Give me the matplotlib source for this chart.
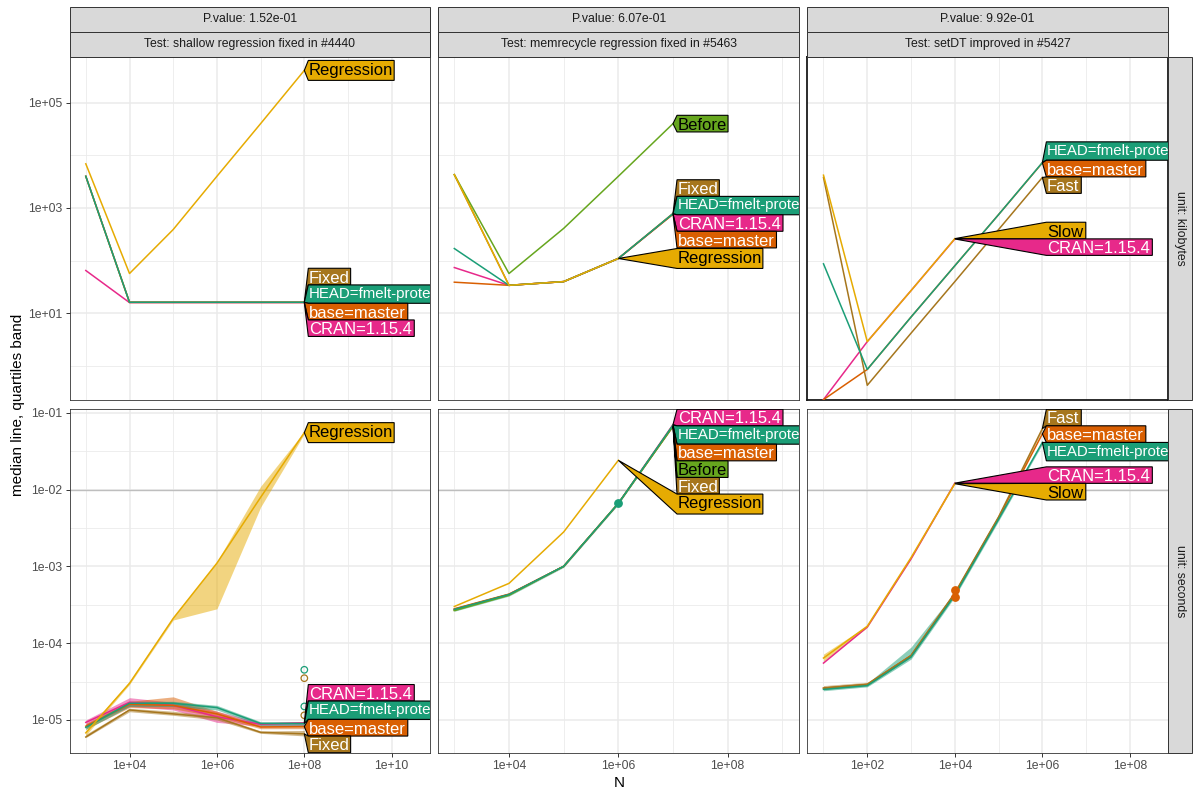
import numpy as np
import matplotlib
matplotlib.use("Agg")
import matplotlib.pyplot as plt
from matplotlib.patches import Polygon, Rectangle
from matplotlib.textpath import TextPath
from matplotlib.font_manager import FontProperties
from matplotlib.transforms import IdentityTransform
from matplotlib.ticker import FixedLocator, NullFormatter

plt.rcParams['font.family'] = ['Liberation Sans', 'DejaVu Sans']
DPI = 100

HEAD = "HEAD=fmelt-protect"
BASE = "base=master"
CRAN = "CRAN=1.15.4"

test_names = ["shallow regression fixed in #4440",
              "memrecycle regression fixed in #5463",
              "setDT improved in #5427"]
p_values = [1.52e-01, 6.07e-01, 9.92e-01]
units = ["kilobytes", "seconds"]

# test 1
N_shallow = [1e3, 1e4, 1e5, 1e6, 1e7, 1e8]
shallow_kb = {
    CRAN: [65, 16.0, 16.0, 16.0, 16.0, 16.0],
    BASE: [4000, 16.1, 16.1, 16.1, 16.1, 16.1],
    "Fixed": [4000, 16.3, 16.3, 16.3, 16.3, 16.3],
    HEAD: [4000, 16.2, 16.2, 16.2, 16.2, 16.2],
    "Regression": [6900, 57, 390, 4000, 40000, 410000],
}
shallow_sec = {
    CRAN: [9.3e-6, 1.7e-5, 1.55e-5, 1.1e-5, 8.8e-6, 9.2e-6],
    BASE: [8.3e-6, 1.6e-5, 1.55e-5, 1.2e-5, 8.1e-6, 8.2e-6],
    "Fixed": [6.0e-6, 1.35e-5, 1.2e-5, 1.07e-5, 6.9e-6, 6.6e-6],
    HEAD: [8.0e-6, 1.65e-5, 1.65e-5, 1.45e-5, 9.0e-6, 9.0e-6],
    "Regression": [6.8e-6, 3.0e-5, 2.1e-4, 1.1e-3, 7.9e-3, 5.5e-2],
}
shallow_q25 = {
    CRAN: [8.5e-6, 1.5e-5, 1.35e-5, 9.3e-6, 8.3e-6, 8.4e-6],
    BASE: [7.6e-6, 1.45e-5, 1.4e-5, 1.1e-5, 7.7e-6, 7.7e-6],
    "Fixed": [5.9e-6, 1.28e-5, 1.15e-5, 1.0e-5, 6.7e-6, 6.2e-6],
    HEAD: [7.5e-6, 1.5e-5, 1.5e-5, 1.35e-5, 8.5e-6, 8.5e-6],
    "Regression": [6.3e-6, 2.9e-5, 2.0e-4, 2.8e-4, 5.9e-3, 5.3e-2],
}
shallow_q75 = {
    CRAN: [1.0e-5, 1.95e-5, 1.7e-5, 1.3e-5, 9.3e-6, 9.4e-6],
    BASE: [9.0e-6, 1.75e-5, 2.0e-5, 1.3e-5, 8.5e-6, 8.5e-6],
    "Fixed": [6.5e-6, 1.42e-5, 1.3e-5, 1.12e-5, 7.2e-6, 7.3e-6],
    HEAD: [8.6e-6, 1.75e-5, 1.75e-5, 1.55e-5, 9.5e-6, 9.5e-6],
    "Regression": [7.1e-6, 3.2e-5, 2.2e-4, 1.15e-3, 1.1e-2, 5.7e-2],
}
shallow_pts = {HEAD: (1e8, [4.5e-5, 1.5e-5]), "Fixed": (1e8, [3.5e-5, 1.15e-5])}

# test 2
N_memrecycle = [1e3, 1e4, 1e5, 1e6, 1e7]
memrecycle_kb = {
    CRAN: [74, 34, 40, 110, 770],
    BASE: [39, 34, 40, 110, 760],
    "Fixed": [4300, 34, 40, 110, 790],
    "Before": [4300, 57, 410, 4000, 40000],
    HEAD: [170, 34, 40, 110, 780],
    "Regression": [4300, 34, 40, 110],
}
memrecycle_sec = {
    CRAN: [2.75e-4, 4.3e-4, 1.0e-3, 6.6e-3, 7.0e-2],
    BASE: [2.8e-4, 4.35e-4, 1.0e-3, 6.6e-3, 6.8e-2],
    "Fixed": [2.7e-4, 4.25e-4, 1.0e-3, 6.6e-3, 6.6e-2],
    "Before": [2.65e-4, 4.2e-4, 1.0e-3, 6.6e-3, 6.7e-2],
    HEAD: [2.75e-4, 4.3e-4, 1.0e-3, 6.6e-3, 6.9e-2],
    "Regression": [3.0e-4, 6.0e-4, 2.8e-3, 2.4e-2],
}
memrecycle_q25 = {HEAD: [2.6e-4, 4.1e-4, 0.97e-3, 6.4e-3, 6.7e-2]}
memrecycle_q75 = {HEAD: [2.9e-4, 4.5e-4, 1.03e-3, 6.8e-3, 7.1e-2]}
memrecycle_pts = {HEAD: (1e6, [6.6e-3])}

# test 3
N_setDT = [1e1, 1e2, 1e3, 1e4, 1e5, 1e6]
setDT_kb = {
    CRAN: [0.23, 2.9, 27, 258],
    BASE: [0.23, 0.86, 8.5, 80, 750, 7200],
    "Fast": [3800, 0.43, 4.2, 40, 390, 3800],
    HEAD: [87, 0.86, 8.5, 80, 750, 7300],
    "Slow": [4200, 2.9, 27, 262],
}
setDT_sec = {
    CRAN: [5.5e-5, 1.62e-4, 1.25e-3, 1.21e-2],
    BASE: [2.6e-5, 2.9e-5, 6.9e-5, 4.4e-4, 4.3e-3, 5.3e-2],
    "Fast": [2.6e-5, 2.9e-5, 6.9e-5, 4.5e-4, 4.4e-3, 6.2e-2],
    HEAD: [2.5e-5, 2.8e-5, 6.6e-5, 4.2e-4, 4.1e-3, 4.1e-2],
    "Slow": [6.4e-5, 1.66e-4, 1.3e-3, 1.19e-2],
}
setDT_q25 = {
    HEAD: [2.4e-5, 2.7e-5, 6.2e-5, 4.0e-4, 3.9e-3, 3.9e-2],
    "Slow": [5.8e-5, 1.6e-4, 1.25e-3, 1.18e-2],
    "Fast": [2.5e-5, 2.8e-5, 6.6e-5, 4.3e-4, 4.2e-3, 6.0e-2],
}
setDT_q75 = {
    HEAD: [2.7e-5, 3.0e-5, 8.9e-5, 4.6e-4, 4.4e-3, 4.3e-2],
    "Slow": [7.2e-5, 1.7e-4, 1.35e-3, 1.22e-2],
    "Fast": [2.8e-5, 3.1e-5, 7.2e-5, 4.7e-4, 4.6e-3, 6.4e-2],
}
setDT_pts = {BASE: (1e4, [4.9e-4, 4.0e-4])}

colors = {HEAD: "#1B9E77", BASE: "#D95F02", CRAN: "#E7298A", "Before": "#66A61E",
          "Regression": "#E6AB02", "Slow": "#E6AB02", "Fixed": "#A6761D", "Fast": "#A6761D"}
text_colors = {HEAD: "white", BASE: "white", CRAN: "white", "Fixed": "white", "Fast": "white",
               "Before": "black", "Regression": "black", "Slow": "black"}
draw_order = [CRAN, BASE, "Fixed", "Fast", "Before", HEAD, "Regression", "Slow"]

# layout (pixels)
W, H = 1200, 800
col_left = [69.5, 438.3, 807.3]
col_right = [430.0, 799.0, 1168.0]
row_top = [56.7, 409.3]
row_bottom = [400.0, 752.7]
xlims = [(2.627, 10.876), (2.707, 9.304), (0.63, 8.87)]
ylims = [(-0.646, 5.873), (-5.426, -0.956)]
xmajor = [[4, 6, 8, 10], [4, 6, 8], [2, 4, 6, 8]]
xminor = [[3, 5, 7, 9], [3, 5, 7, 9], [1, 3, 5, 7]]
ymajor = [[1, 3, 5], [-5, -4, -3, -2, -1]]
yminor = [[0, 2, 4], [-5.5, -4.5, -3.5, -2.5, -1.5]]

panel_data = [
    (N_shallow, shallow_kb, shallow_sec, shallow_q25, shallow_q75, shallow_pts),
    (N_memrecycle, memrecycle_kb, memrecycle_sec, memrecycle_q25, memrecycle_q75, memrecycle_pts),
    (N_setDT, setDT_kb, setDT_sec, setDT_q25, setDT_q75, setDT_pts),
]

fig = plt.figure(figsize=(W / DPI, H / DPI), dpi=DPI)


def fmt(e):
    return "1e" + format(int(e), "+03d")


def draw_labels(ax, N, series):
    tips = {}
    for name, vals in series.items():
        tips[name] = ax.transData.transform((N[len(vals) - 1], vals[-1]))
    bx0 = max(p[0] for p in tips.values()) + 4
    items = []
    for name, (tx, ty) in tips.items():
        fs = 10.8 if name == HEAD else 12
        tp = TextPath((0, 0), name, size=fs * DPI / 72, prop=FontProperties(family='Liberation Sans'))
        e = tp.get_extents()
        h = max(e.y1 - e.y0 + 4.4, 16.5)
        items.append(dict(name=name, tx=tx, ty=ty, c=ty, h=h, fs=fs, e=e))
    items.sort(key=lambda d: -d['c'])
    lo, hi = ax.bbox.y0, ax.bbox.y1

    def place(cl):
        hh = sum(i['h'] for i in cl)
        c = np.mean([i['c'] for i in cl])
        top = min(c + hh / 2, hi)
        top = max(top, lo + hh)
        return top, top - hh

    clusters = [[it] for it in items]
    merged = True
    while merged:
        merged = False
        for k in range(len(clusters) - 1):
            t1, b1 = place(clusters[k])
            t2, b2 = place(clusters[k + 1])
            if t2 > b1:
                clusters[k] = clusters[k] + clusters.pop(k + 1)
                merged = True
                break
    for cl in clusters:
        top, _ = place(cl)
        for it in cl:
            bottom = top - it['h']
            e = it['e']
            bx1 = bx0 + (e.x1 - e.x0) + 4
            poly = Polygon([(it['tx'], it['ty']), (bx0, top), (bx1, top), (bx1, bottom), (bx0, bottom)],
                           closed=True, facecolor=colors[it['name']], edgecolor='black', lw=0.8,
                           transform=IdentityTransform(), zorder=5)
            ax.add_patch(poly)
            base_y = (top + bottom) / 2 - (e.y0 + e.y1) / 2
            ax.text(bx0 + 2 - e.x0, base_y, it['name'], transform=IdentityTransform(),
                    fontsize=it['fs'], color=text_colors[it['name']], ha='left', va='baseline',
                    clip_on=True, zorder=6)
            top = bottom


for r in range(2):
    for c in range(3):
        N, kb, sec, q25, q75, pts = panel_data[c]
        series = kb if r == 0 else sec
        ax = fig.add_axes([col_left[c] / W, 1 - row_bottom[r] / H,
                           (col_right[c] - col_left[c]) / W, (row_bottom[r] - row_top[r]) / H])
        ax.set_xscale('log')
        ax.set_yscale('log')
        ax.set_xlim(10 ** xlims[c][0], 10 ** xlims[c][1])
        ax.set_ylim(10 ** ylims[r][0], 10 ** ylims[r][1])
        ax.xaxis.set_major_locator(FixedLocator([10.0 ** e for e in xmajor[c]]))
        ax.xaxis.set_minor_locator(FixedLocator([10.0 ** e for e in xminor[c]]))
        ax.yaxis.set_major_locator(FixedLocator([10.0 ** e for e in ymajor[r]]))
        ax.yaxis.set_minor_locator(FixedLocator([10.0 ** e for e in yminor[r]]))
        ax.xaxis.set_minor_formatter(NullFormatter())
        ax.yaxis.set_minor_formatter(NullFormatter())
        ax.set_xticklabels([fmt(e) for e in xmajor[c]])
        ax.set_yticklabels([fmt(e) for e in ymajor[r]])
        ax.grid(True, which='major', color='#EBEBEB', lw=1.1)
        ax.grid(True, which='minor', color='#EBEBEB', lw=0.6)
        ax.set_axisbelow(True)
        ax.tick_params(which='minor', length=0)
        ax.tick_params(which='major', length=3.2, width=0.7, color='#333333',
                       labelsize=8.8, labelcolor='#4D4D4D', pad=2)
        if r == 0:
            ax.tick_params(axis='x', which='both', length=0, labelbottom=False)
        if c > 0:
            ax.tick_params(axis='y', which='both', length=0, labelleft=False)
        for sp in ax.spines.values():
            sp.set_color('#333333')
            sp.set_linewidth(0.6)
        if r == 0 and c == 2:
            for sp in ax.spines.values():
                sp.set_color('#1A1A1A')
                sp.set_linewidth(1.3)
        if r == 1:
            ax.axhline(1e-2, color='#BEBEBE', lw=1.0, zorder=1.5)
            for name in draw_order:
                if name in q25:
                    n = N[:len(q25[name])]
                    ax.fill_between(n, q25[name], q75[name], color=colors[name], alpha=0.5, lw=0, zorder=2)
        for name in draw_order:
            if name in series:
                vals = series[name]
                ax.plot(N[:len(vals)], vals, color=colors[name], lw=1.1, zorder=3)
        if r == 1:
            for name, (n, ys) in pts.items():
                if c == 0:
                    ax.scatter([n] * len(ys), ys, s=22, facecolors='none', edgecolors=colors[name],
                               lw=0.9, zorder=4)
                else:
                    ax.scatter([n] * len(ys), ys, s=28, color=colors[name], zorder=4)
        draw_labels(ax, N, series)

# strips
strip_fill = '#D9D9D9'
strip_edge = '#333333'
for c in range(3):
    x0 = col_left[c] / W
    w = (col_right[c] - col_left[c]) / W
    for (ya, yb, txt) in [(7.3, 31.7, "P.value: %.2e" % p_values[c]),
                          (31.7, 56.7, "Test: " + test_names[c])]:
        fig.patches.append(Rectangle((x0, 1 - yb / H), w, (yb - ya) / H, transform=fig.transFigure,
                                     facecolor=strip_fill, edgecolor=strip_edge, lw=0.7))
        fig.text(x0 + w / 2, 1 - (ya + yb) / 2 / H, txt, ha='center', va='center',
                 fontsize=8.8, color='#1A1A1A')
for r in range(2):
    x0 = 1168.3 / W
    w = 23.4 / W
    fig.patches.append(Rectangle((x0, 1 - row_bottom[r] / H), w, (row_bottom[r] - row_top[r]) / H,
                                 transform=fig.transFigure, facecolor=strip_fill,
                                 edgecolor=strip_edge, lw=0.7))
    fig.text(x0 + w / 2, 1 - (row_top[r] + row_bottom[r]) / 2 / H, "unit: " + units[r],
             ha='center', va='center', rotation=-90, fontsize=8.8, color='#1A1A1A')

fig.text(18 / W, 1 - 404.7 / H, "median line, quartiles band", rotation=90,
         ha='center', va='center', fontsize=11)
fig.text(619 / W, 1 - 783 / H, "N", ha='center', va='center', fontsize=11)

fig.savefig("out.png", dpi=DPI)
